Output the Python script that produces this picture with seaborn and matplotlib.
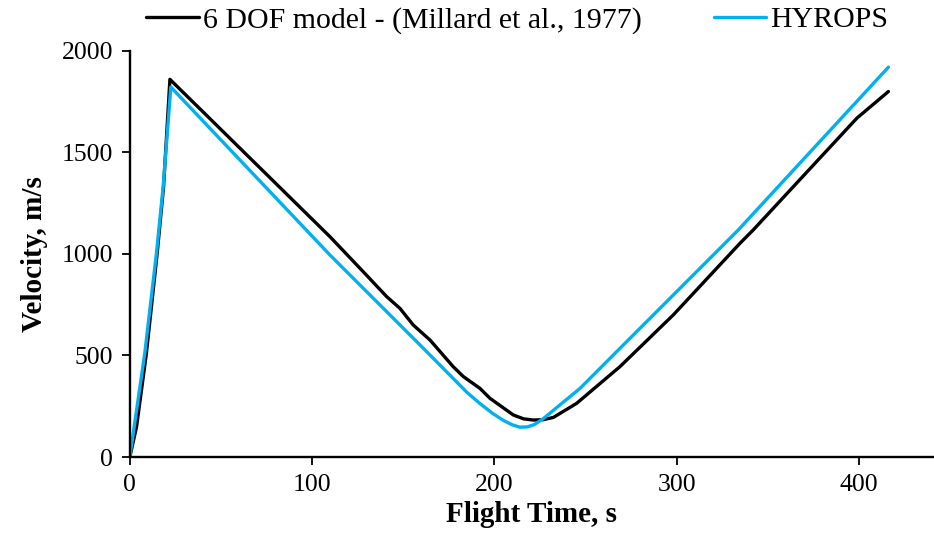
import matplotlib
matplotlib.use("Agg")
import matplotlib.pyplot as plt
import seaborn as sns
import pandas as pd

# --- data ---
dof_time = [0, 3.7, 9.1, 15, 18.5, 22, 109.8, 128, 140.9, 148.2, 155.5, 164.7,
            177.4, 183, 192.1, 197.6, 210.4, 216, 221.4, 227, 232.4, 245.1,
            268.9, 298.2, 334.8, 342, 398.8, 416.2]
dof_vel = [0, 149, 511, 1003, 1330, 1860, 1085, 913, 790, 732, 650, 576,
           445, 396, 338, 289, 207, 188, 182, 184, 195, 264,
           445, 700, 1053, 1118, 1668, 1800]

hyrops_time = [0, 8.2, 14.6, 18.3, 22.5, 110, 159.2, 185, 192, 199, 205,
               210, 214, 218, 222, 227, 232.4, 247, 268.9, 333.8, 416.2]
hyrops_vel = [0, 511, 1003, 1332, 1822, 993, 552, 318, 264, 215, 180,
              158, 147, 148, 160, 190, 230, 338, 535, 1118, 1920]

series_names = ["6 DOF model - (Millard et al., 1977)", "HYROPS"]
series_colors = ["#000000", "#00B0F0"]
x_ticks = [0, 100, 200, 300, 400]
y_ticks = [0, 500, 1000, 1500, 2000]

df = pd.concat([
    pd.DataFrame({"t": dof_time, "v": dof_vel, "s": series_names[0]}),
    pd.DataFrame({"t": hyrops_time, "v": hyrops_vel, "s": series_names[1]}),
], ignore_index=True)

sns.set_theme(style="ticks")
plt.rcParams["font.family"] = ["Liberation Serif", "DejaVu Serif"]
plt.rcParams["text.color"] = "black"
plt.rcParams["axes.labelcolor"] = "black"
plt.rcParams["lines.solid_joinstyle"] = "round"
plt.rcParams["lines.solid_capstyle"] = "round"

fig = plt.figure(figsize=(9.34, 5.4), dpi=100)
ax = fig.add_axes([0.139, 0.1537, 0.860, 0.752])

sns.lineplot(data=df, x="t", y="v", hue="s", hue_order=series_names,
             palette=series_colors, estimator=None, sort=False,
             linewidth=2.4, ax=ax)

ax.set_xlim(0, 440.7)
ax.set_ylim(0, 2000)
ax.set_xticks(x_ticks)
ax.set_yticks(y_ticks)
ax.tick_params(axis="both", direction="out", length=6, width=1.3,
               labelsize=18.5, colors="black", pad=6)
for s in ["top", "right"]:
    ax.spines[s].set_visible(False)
for s in ["left", "bottom"]:
    ax.spines[s].set_linewidth(1.7)
    ax.spines[s].set_color("black")

ax.set_xlabel("Flight Time, s", fontsize=21, fontweight="bold", labelpad=4,
              color="black")
ax.set_ylabel("Velocity, m/s", fontsize=21, fontweight="bold", labelpad=10,
              color="black")

leg = ax.legend(loc="center", bbox_to_anchor=(0.554, 0.963),
                bbox_transform=fig.transFigure,
                ncol=2, frameon=False, fontsize=21.5, handlelength=1.75,
                handletextpad=0.15, columnspacing=2.4, borderaxespad=0)
for t in leg.get_texts():
    t.set_color("black")

fig.savefig("out.png", dpi=100)
